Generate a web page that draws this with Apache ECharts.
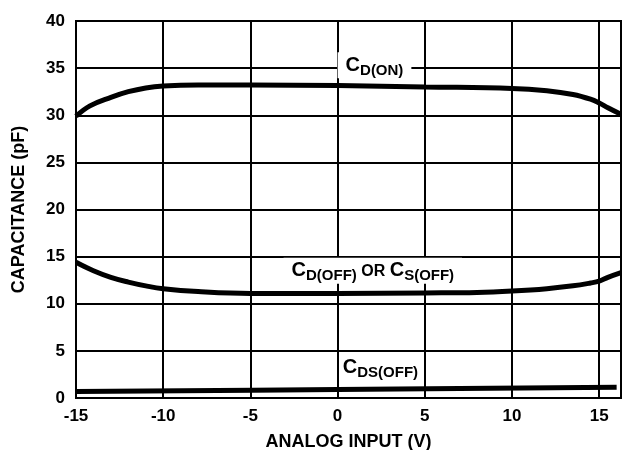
<!DOCTYPE html>
<html>
<head>
<meta charset="utf-8">
<script src="https://cdn.jsdelivr.net/npm/echarts@6/dist/echarts.min.js"></script>
<style>
  html, body { margin: 0; padding: 0; background: #fff; }
  #chart { width: 622px; height: 450px; }
</style>
</head>
<body>
<div id="chart"></div>
<script>
// values
let xTicks = [-15, -10, -5, 0, 5, 10, 15];
let yTicks = [0, 5, 10, 15, 20, 25, 30, 35, 40];

let onX = [-15, -14.2, -13, -12, -11, -10, -8, -5, 0, 5, 10, 12, 13.5, 14.5, 15, 15.5, 16.25];
let onY = [29.9, 31.0, 31.9, 32.5, 32.9, 33.1, 33.2, 33.2, 33.15, 33.0, 32.85, 32.6, 32.2, 31.7, 31.3, 30.8, 30.1];

let offX = [-15, -14, -13, -12, -11, -10, -8, -5, 0, 5, 8, 10, 12, 13.5, 14.5, 15, 15.5, 16.25];
let offY = [14.4, 13.5, 12.8, 12.3, 11.9, 11.6, 11.3, 11.1, 11.1, 11.15, 11.2, 11.35, 11.6, 11.9, 12.2, 12.4, 12.8, 13.3];

let dsX = [-15, 0, 16];
let dsY = [0.7, 0.9, 1.15];

let zip = function(xs, ys){
    return xs.map(function(x, i){ return [x, ys[i]]; });
};

let font = 'Liberation Sans, Arial, sans-serif';
let myChart = echarts.init(document.getElementById('chart'));

let lineSeries = function(name, data){
    return {
        name: name,
        type: 'line',
        data: data,
        smooth: 0.4,
        symbol: 'none',
        lineStyle: { color: '#000', width: 5 },
        z: 5
    };
};

let option = {
    backgroundColor: '#fff',
    animation: false,
    grid: {
        left: 76, right: 1, top: 21, bottom: 52,
        outerBoundsMode: 'none',
        containLabel: false,
        show: true, borderColor: '#000', borderWidth: 2
    },
    xAxis: {
        type: 'value',
        min: -15, max: 16.25, interval: 5,
        name: 'ANALOG INPUT (V)',
        nameLocation: 'middle',
        nameGap: 35,
        nameTextStyle: { fontFamily: font, fontWeight: 'bold', fontSize: 18, color: '#000' },
        axisLine: { show: true, lineStyle: { color: '#000', width: 2 } },
        axisTick: { show: false },
        axisLabel: {
            fontFamily: font, fontWeight: 'bold', fontSize: 17, color: '#000', margin: 10,
            showMaxLabel: false,
            formatter: function(v){ return xTicks.indexOf(v) >= 0 ? String(v) : ''; }
        },
        splitLine: { show: true, lineStyle: { color: '#000', width: 2 } }
    },
    yAxis: {
        type: 'value',
        min: 0, max: 40, interval: 5,
        name: 'CAPACITANCE (pF)',
        nameLocation: 'middle',
        nameGap: 48,
        nameTextStyle: { fontFamily: font, fontWeight: 'bold', fontSize: 18, color: '#000' },
        axisLine: { show: true, lineStyle: { color: '#000', width: 2 } },
        axisTick: { show: false },
        axisLabel: {
            fontFamily: font, fontWeight: 'bold', fontSize: 17, color: '#000', margin: 11,
            formatter: function(v){ return yTicks.indexOf(v) >= 0 ? String(v) : ''; }
        },
        splitLine: { show: true, lineStyle: { color: '#000', width: 2 } }
    },
    series: [
        lineSeries('CD(ON)', zip(onX, onY)),
        lineSeries('CD(OFF)', zip(offX, offY)),
        lineSeries('CDS(OFF)', zip(dsX, dsY))
    ]
};
myChart.setOption(option);

// curve labels, anchored in data coordinates
let rich = {
    c: { fontFamily: font, fontWeight: 'bold', fontSize: 20, color: '#000', lineHeight: 26 },
    o: { fontFamily: font, fontWeight: 'bold', fontSize: 16, color: '#000', lineHeight: 26, padding: [2, 0, 0, 0] },
    s: { fontFamily: font, fontWeight: 'bold', fontSize: 15, color: '#000', lineHeight: 26, padding: [11, 0, 0, 0] }
};
let label = function(text, x, y, bg){
    let p = myChart.convertToPixel({ gridIndex: 0 }, [x, y]);
    return {
        type: 'text',
        x: p[0], y: p[1],
        z: 20,
        style: {
            text: text,
            rich: rich,
            verticalAlign: 'middle',
            align: 'left',
            backgroundColor: bg ? '#fff' : 'transparent',
            padding: bg ? [0, 8, 0, 8] : 0
        }
    };
};
myChart.setOption({
    graphic: [
        label('{c|C}{s|D(ON)}', 0.0, 35.3, true),
        label('{c|C}{s|D(OFF)}{o| OR }{c|C}{s|S(OFF)}', -3.1, 13.5, true),
        label('{c|C}{s|DS(OFF)}', 0.3, 3.2, false)
    ]
});
</script>
</body>
</html>
